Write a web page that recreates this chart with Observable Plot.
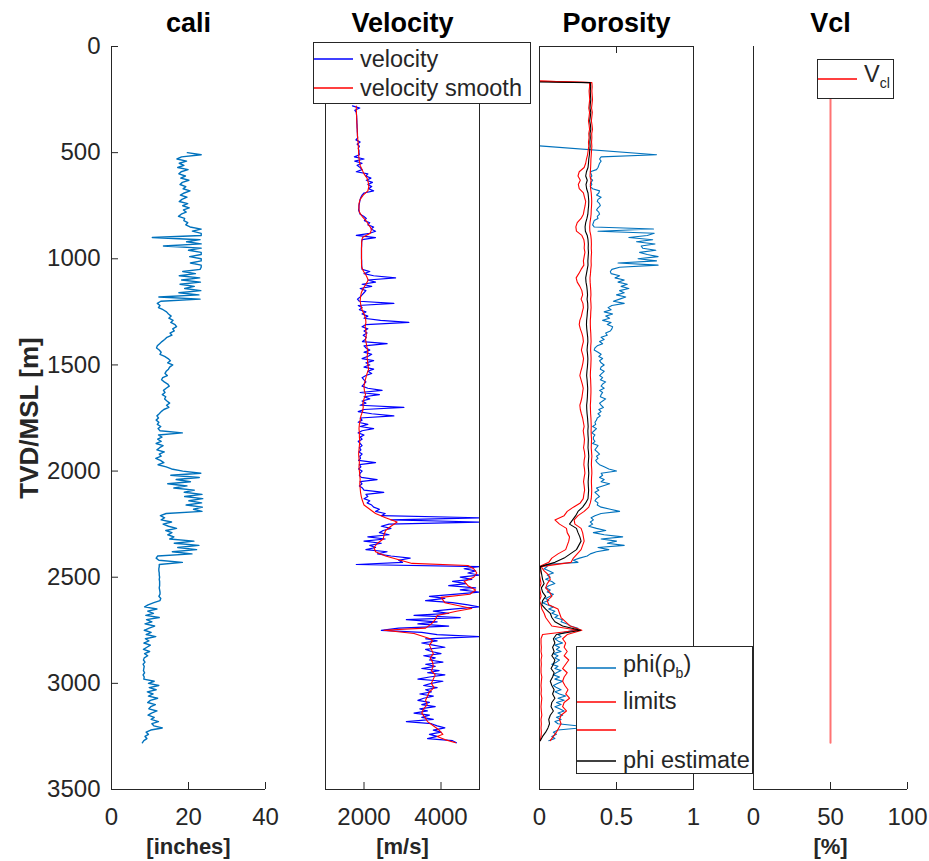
<!DOCTYPE html>
<html><head><meta charset="utf-8">
<script src="https://cdn.jsdelivr.net/npm/d3@7"></script>
<script src="https://cdn.jsdelivr.net/npm/@observablehq/plot@0.6"></script>
<style>
body{margin:0;background:#fff;}
#chart{position:relative;width:929px;height:861px;background:#fff;font-family:"Liberation Sans",Arial,Helvetica,sans-serif;overflow:hidden}
#chart svg{position:absolute;left:0;top:0}
.legend{position:absolute;background:#fff;border:1px solid #262626;box-sizing:border-box;}
.legend svg.ln{position:absolute;left:4px;width:40px;height:4px;overflow:visible}
.legend .tx{position:absolute;font-size:23.5px;line-height:1;color:#262626;white-space:nowrap;transform:translateY(-50%)}
.legend .sb{position:relative;top:0.44em;font-size:0.6em;vertical-align:baseline}
</style></head>
<body><div id="chart"></div>
<script>
// ---------------- DATA ----------------
const depthTicks = [0, 500, 1000, 1500, 2000, 2500, 3000, 3500];
const caliTicks = [0, 20, 40];
const velTicks = [2000, 4000];
const porTicks = [0, 0.5, 1];
const vclTicks = [0, 50, 100];
const panelTitles = ["cali", "Velocity", "Porosity", "Vcl"];
const panelUnits = ["[inches]", "[m/s]", "", "[%]"];
const depthLabel = "TVD/MSL [m]";

// caliper [inches], sampled every 10 m from 500 m
const caliTop = 500, caliStep = 10;
const caliValues = [
  19.7, 23.3, 18.2, 17.0, 19.5, 17.6, 18.8, 17.2, 19.9, 18.1,
  17.5, 19.2, 18.0, 20.1, 18.4, 17.8, 19.3, 18.6, 20.4, 18.9,
  17.9, 19.6, 18.3, 17.6, 19.8, 18.5, 20.2, 18.7, 19.4, 18.1,
  17.4, 19.0, 18.8, 19.8, 19.3, 20.4, 23.3, 21.0, 23.3, 23.3,
  10.6, 23.0, 19.5, 23.3, 13.5, 23.3, 20.0, 23.3, 23.3, 20.3,
  23.3, 23.3, 20.5, 23.3, 23.3, 23.0, 18.5, 21.8, 17.6, 22.9,
  18.2, 23.1, 17.8, 21.5, 19.0, 23.2, 17.5, 22.7, 12.3, 23.0,
  12.8, 11.9, 12.6, 12.2, 13.4, 14.3, 14.8, 15.5, 14.9, 16.0,
  15.4, 16.5, 16.9, 15.9, 16.3, 15.2, 15.7, 14.4, 13.8, 13.1,
  12.5, 11.9, 11.7, 12.4, 12.9, 12.6, 13.8, 14.7, 15.3, 14.6,
  15.9, 15.1, 14.8, 14.2, 13.9, 14.5, 13.3, 13.0, 13.7, 14.6,
  15.0, 14.2, 13.5, 13.9, 13.2, 14.1, 13.8, 14.4, 15.1, 14.3,
  14.9, 13.6, 12.9, 12.4, 11.8, 12.2, 11.6, 12.3, 11.9, 12.8,
  12.1, 12.6, 18.4, 12.2, 13.1, 12.0, 12.9, 11.6, 13.4, 12.5,
  11.8, 13.7, 12.4, 12.9, 11.5, 12.7, 13.6, 12.1, 14.2, 15.6,
  18.5, 23.2, 15.4, 22.8, 16.8, 20.5, 14.6, 19.6, 16.2, 21.5,
  18.9, 23.5, 19.0, 23.7, 20.1, 23.4, 19.4, 23.6, 21.3, 23.5,
  14.2, 12.7, 13.8, 12.9, 15.6, 13.4, 14.8, 16.9, 14.1, 15.7,
  14.6, 16.2, 15.1, 21.4, 16.3, 22.7, 17.2, 22.1, 15.8, 20.9,
  12.0, 11.6, 12.3, 18.4, 12.4, 12.4, 12.3, 12.3, 12.4, 12.4,
  12.5, 12.4, 12.5, 12.5, 12.5, 12.4, 12.5, 12.6, 12.6, 12.3,
  12.8, 12.6, 11.0, 9.5, 8.6, 11.8, 9.4, 10.9, 8.9, 12.4,
  9.1, 10.5, 8.7, 11.2, 9.8, 8.5, 10.3, 9.0, 11.5, 8.8,
  9.7, 8.4, 10.1, 9.2, 8.3, 9.9, 8.6, 9.4, 8.5, 8.3,
  8.7, 8.2, 8.5, 8.4, 8.3, 8.6, 8.2, 8.5, 8.4, 11.1,
  9.6, 12.3, 9.8, 11.6, 9.3, 10.8, 9.6, 12.0, 10.1, 9.4,
  11.4, 10.2, 9.7, 11.8, 10.4, 9.5, 11.1, 10.3, 12.2, 10.5,
  11.0, 13.2, 10.2, 9.0, 9.6, 8.7, 9.2, 8.4, 8.0
];

// velocity [m/s], sampled every 10 m from 280 m
const velTop = 280, velStep = 10;
const velValues = [
  1700, 1890, 1760, 1800, 1805, 1810, 1810, 1815, 1815, 1820,
  1820, 1825, 1825, 1830, 1830, 1835, 1790, 1900, 1820, 1880,
  1850, 1870, 1870, 1880, 1750, 2000, 1760, 1950, 1820, 1900,
  1950, 1800, 2100, 2050, 2180, 2060, 2220, 2100, 2200, 2120,
  2250, 2000, 1950, 1920, 1900, 1890, 1880, 1870, 1870, 1860,
  1880, 1900, 1990, 2060, 2010, 2150, 2100, 2250, 2180, 2300,
  2150, 1800, 2300, 1950, 1940, 1940, 1940, 1935, 1935, 1935,
  1935, 1935, 1935, 1940, 1940, 1940, 1945, 1950, 2150, 2000,
  2250, 2820, 2100, 2300, 1950, 2200, 1900, 2050, 2000, 1950,
  1900, 1830, 1880, 2775, 1850, 1950, 1880, 2050, 1950, 2100,
  2000, 2430, 3165, 2050, 1950, 2100, 2000, 2080, 1980, 2060,
  2030, 1960, 2600, 2000, 2050, 2150, 2000, 2200, 2100, 1950,
  2250, 2050, 2150, 2000, 2250, 2100, 2200, 2050, 1950, 2000,
  2050, 2000, 1950, 2100, 2470, 1900, 2400, 2000, 2150, 1950,
  2050, 1900, 3035, 2000, 1850, 2200, 2775, 1900, 1950, 1850,
  2100, 1900, 2250, 1950, 1850, 2000, 1900, 1950, 1850, 1900,
  1950, 1880, 1920, 1870, 1950, 1890, 1910, 1860, 2300, 1880,
  1920, 1860, 1950, 1900, 1880, 1930, 2340, 1900, 1950, 1880,
  1960, 2000, 2515, 2050, 2100, 2000, 2150, 2080, 2200, 2250,
  2400, 2300, 2550, 2450, 5000, 2700, 5000, 2650, 2450, 2700,
  2500, 2400, 2650, 2100, 2550, 2000, 2450, 2150, 2300, 2050,
  2600, 2350, 2700, 3200, 2900, 3000, 1800, 5000, 4600, 4900,
  4700, 5000, 4500, 4800, 4300, 4650, 4200, 4900, 4500, 5000,
  4400, 3700, 4100, 3600, 4300, 4700, 5000, 4300, 3800, 4200,
  3300, 4500, 3100, 3900, 3400, 4200, 2900, 2450, 3500, 3900,
  5000, 3600, 3900, 3500, 3800, 4100, 3600, 3750, 4000, 3550,
  3850, 3700, 4050, 3600, 3850, 3500, 3950, 3650, 4100, 3700,
  3400, 4050, 3750, 3550, 3900, 3600, 3750, 3450, 3800, 3550,
  3400, 3700, 3500, 3850, 3450, 3650, 3300, 3700, 3500, 3800,
  3100, 3750, 3900, 4100, 3800, 4000, 3700, 3900, 3650, 4300,
  4400
];

// smoothed velocity
const velSmoothDepth = [
  280, 300, 320, 340, 360, 380, 400, 420, 440, 460,
  480, 500, 520, 540, 560, 580, 600, 620, 640, 660,
  680, 700, 720, 740, 760, 780, 800, 820, 840, 860,
  880, 900, 920, 940, 960, 980, 1000, 1020, 1040, 1060,
  1080, 1100, 1120, 1140, 1160, 1180, 1200, 1220, 1240, 1260,
  1280, 1300, 1320, 1340, 1360, 1380, 1400, 1420, 1440, 1460,
  1480, 1500, 1520, 1540, 1560, 1580, 1600, 1620, 1640, 1660,
  1680, 1700, 1720, 1740, 1760, 1780, 1800, 1820, 1840, 1860,
  1880, 1900, 1920, 1940, 1960, 1980, 2000, 2020, 2040, 2060,
  2080, 2100, 2120, 2140, 2160, 2180, 2200, 2220, 2240, 2260,
  2280, 2300, 2320, 2340, 2360, 2380, 2400, 2420, 2435, 2445,
  2460, 2480, 2500, 2520, 2540, 2560, 2580, 2595, 2620, 2647,
  2660, 2680, 2700, 2720, 2740, 2750, 2765, 2790, 2800, 2820,
  2840, 2860, 2880, 2900, 2920, 2940, 2960, 2980, 3000, 3020,
  3040, 3060, 3080, 3100, 3120, 3140, 3160, 3180, 3200, 3220,
  3240, 3250, 3265, 3280
];
const velSmoothValue = [
  1800, 1800, 1805, 1810, 1815, 1820, 1825, 1830, 1840, 1850,
  1855, 1860, 1866, 1880, 1900, 1950, 2000, 2080, 2110, 2125,
  2100, 1980, 1900, 1870, 1866, 1880, 1950, 2050, 2120, 2200,
  2160, 1960, 1940, 1935, 1935, 1935, 1935, 1935, 1940, 1990,
  2060, 2110, 2050, 1980, 1930, 1910, 1900, 1920, 1950, 2000,
  2040, 2050, 2030, 2050, 2060, 2040, 2060, 2080, 2100, 2080,
  2090, 2100, 2120, 2080, 2050, 2020, 2000, 2010, 2040, 2000,
  1970, 1980, 1960, 1920, 1900, 1880, 1870, 1880, 1880, 1890,
  1880, 1870, 1860, 1870, 1880, 1870, 1880, 1890, 1900, 1890,
  1900, 1910, 1930, 1960, 2000, 2150, 2300, 2560, 2860, 2700,
  2560, 2520, 2500, 2350, 2260, 2300, 2560, 2950, 3250, 4700,
  4850, 4930, 4850, 4600, 4700, 4900, 4750, 4000, 4100, 4800,
  4400, 3900, 3850, 3750, 3600, 2520, 3300, 3720, 3780, 3700,
  3750, 3800, 3720, 3780, 3800, 3750, 3850, 3800, 3750, 3820,
  3700, 3650, 3600, 3640, 3550, 3500, 3580, 3650, 3800, 3950,
  4050, 3900, 4100, 4380
];

// phi(rho_b): first point, then every 10 m from 510 m
const phiLeadDepth = 468, phiLeadValue = 0;
const phiTop = 510, phiStep = 10;
const phiValues = [
  .76, .40, .39, .40, .39, .385, .38, .37, .33, .335,
  .34, .33, .345, .335, .34, .33, .345, .39, .385, .37,
  .40, .38, .375, .39, .395, .38, .37, .385, .39, .375,
  .38, .355, .35, .345, .355, .74, .38, .745, .70, .58,
  .735, .63, .75, .66, .67, .755, .65, .70, .77, .64,
  .76, .51, .77, .52, .47, .46, .465, .52, .49, .55,
  .51, .57, .53, .58, .52, .55, .50, .56, .52, .48,
  .55, .47, .445, .465, .42, .475, .43, .455, .41, .465,
  .44, .475, .47, .46, .43, .44, .40, .42, .39, .41,
  .375, .36, .355, .38, .40, .385, .41, .39, .40, .42,
  .40, .395, .42, .405, .39, .41, .395, .43, .41, .40,
  .42, .39, .41, .40, .395, .43, .41, .39, .40, .415,
  .385, .40, .38, .395, .375, .37, .36, .365, .345, .37,
  .355, .34, .36, .35, .35, .36, .345, .38, .37, .36,
  .375, .39, .37, .38, .365, .375, .39, .42, .45, .50,
  .40, .41, .39, .42, .40, .455, .41, .37, .385, .36,
  .375, .39, .37, .36, .38, .375, .40, .46, .52, .40,
  .36, .335, .35, .33, .345, .32, .37, .43, .35, .42,
  .54, .40, .50, .44, .55, .38, .45, .37, .33, .31,
  .26, .22, .25, .04, .05, .03, .06, .09, .05, .07,
  .04, .08, .10, .06, .04, .07, .05, .09, .07, .04,
  .06, .02, .05, .09, .06, .10, .08, .12, .10, .15,
  .14, .18, .20, .25, .22, .16, .12, .14, .10, .12,
  .15, .10, .13, .11, .14, .09, .12, .10, .13, .11,
  .08, .12, .10, .14, .11, .09, .13, .10, .15, .12,
  .09, .11, .14, .10, .13, .17, .12, .16, .11, .14,
  .10, .13, .16, .12, .15, .11, .14, .10, .12, .24,
  .26, .12, .09, .11, .08, .10, .06
];

// limits and phi estimate: first point, then every 20 m from 170 m
const limLeadDepth = 163, estLeadDepth = 167, leadValue = 0;
const limTop = 170, limStep = 20;
const limLow = [
  .325, .325, .322, .324, .326, .323, .320, .325, .322, .318,
  .322, .325, .320, .322, .318, .320, .316, .312, .305, .300,
  .290, .258, .250, .265, .252, .258, .285, .292, .300, .296,
  .290, .285, .270, .245, .236, .240, .275, .288, .292, .290,
  .295, .290, .285, .288, .270, .255, .238, .245, .262, .275,
  .280, .270, .282, .285, .278, .272, .262, .258, .265, .275,
  .282, .285, .278, .272, .280, .286, .282, .276, .268, .262,
  .270, .278, .284, .280, .276, .270, .262, .265, .272, .280,
  .285, .290, .284, .288, .292, .290, .286, .292, .295, .290,
  .288, .292, .295, .290, .286, .290, .293, .288, .284, .265,
  .220, .180, .160, .100, .130, .175, .180, .195, .190, .180,
  .170, .120, .080, .060, .000, .005, .000, .005, .010, .000,
  .005, .010, .000, .010, .015, .030, .040, .060, .080, .250,
  .020, .010, .010, .012, .010, .015, .010, .012, .010, .010,
  .015, .012, .010, .012, .010, .015, .012, .010, .012, .015,
  .010, .012, .010, .012, .010, .005
];
const phiEstimate = [
  .330, .332, .330, .331, .333, .330, .328, .333, .330, .326,
  .331, .333, .328, .330, .327, .329, .326, .324, .320, .318,
  .315, .305, .300, .310, .302, .306, .315, .318, .320, .319,
  .316, .314, .308, .300, .296, .298, .310, .315, .317, .316,
  .318, .316, .314, .315, .310, .305, .300, .302, .307, .310,
  .312, .309, .313, .314, .311, .309, .306, .305, .307, .310,
  .313, .314, .311, .309, .312, .314, .313, .311, .308, .306,
  .309, .311, .313, .312, .311, .309, .306, .307, .309, .312,
  .314, .316, .314, .315, .317, .316, .315, .318, .320, .318,
  .316, .318, .320, .318, .316, .317, .319, .317, .315, .300,
  .280, .250, .235, .215, .195, .240, .250, .262, .270, .255,
  .240, .200, .160, .100, .005, .010, .015, .020, .030, .012,
  .020, .040, .020, .015, .040, .070, .080, .100, .150, .265,
  .110, .090, .100, .085, .095, .080, .100, .090, .075, .095,
  .085, .070, .080, .095, .085, .100, .080, .075, .090, .070,
  .060, .065, .055, .040, .020, .005
];
const limHigh = [
  .340, .342, .340, .342, .344, .341, .338, .343, .340, .337,
  .341, .344, .339, .340, .338, .340, .338, .336, .334, .333,
  .332, .330, .328, .335, .330, .332, .336, .338, .339, .338,
  .336, .335, .332, .328, .326, .327, .333, .336, .337, .336,
  .338, .336, .335, .336, .333, .331, .328, .329, .331, .333,
  .334, .332, .334, .335, .333, .332, .330, .330, .331, .333,
  .334, .335, .333, .332, .334, .335, .334, .333, .331, .330,
  .332, .333, .334, .334, .333, .332, .330, .331, .332, .334,
  .335, .336, .335, .336, .338, .337, .336, .338, .340, .338,
  .337, .339, .340, .338, .337, .338, .339, .338, .336, .330,
  .320, .290, .250, .225, .230, .270, .280, .285, .290, .280,
  .270, .245, .220, .205, .010, .030, .060, .070, .050, .040,
  .065, .080, .050, .060, .120, .130, .140, .170, .200, .275,
  .180, .150, .170, .160, .180, .160, .190, .170, .150, .180,
  .160, .150, .165, .185, .170, .195, .160, .150, .175, .140,
  .130, .140, .125, .110, .090, .070
];

// Vcl [%]
const vclDepth = [170, 3280];
const vclValue = [50, 50];

// legend entries
const velLegend = [
  {label: "velocity", color: "#0000ff"},
  {label: "velocity smooth", color: "#ff0000"}
];
const porLegend = [
  {label: "phi(ρ<span class='sb'>b</span>)", color: "#0072BD"},
  {label: "limits", color: "#ff0000"},
  {label: "", color: "#ff0000"},
  {label: "phi estimate", color: "#000000"}
];
const vclLegend = [
  {label: "V<span class='sb'>cl</span>", color: "#ff0000"}
];

// ---------------- LAYOUT / STYLE ----------------
const W = 929, H = 861, TOP = 46, BOTTOM = 789, PW = 154, PH = BOTTOM - TOP;
const panelLefts = [111, 325, 539, 753];
const FONT = '"Liberation Sans", Arial, Helvetica, sans-serif';
const INK = "#262626";
const TICK = 7;
const C_BLUE = "#0072BD";

const grid = (top, step, values) => values.map((v, i) => ({depth: top + i * step, value: v}));
const caliRows = grid(caliTop, caliStep, caliValues);
const velRows = grid(velTop, velStep, velValues);
const velSmoothRows = velSmoothDepth.map((d, i) => ({depth: d, value: velSmoothValue[i]}));
const phiRows = [{depth: phiLeadDepth, value: phiLeadValue}, ...grid(phiTop, phiStep, phiValues)];
const lowRows = [{depth: limLeadDepth, value: leadValue}, ...grid(limTop, limStep, limLow)];
const highRows = [{depth: limLeadDepth, value: leadValue}, ...grid(limTop, limStep, limHigh)];
const estRows = [{depth: estLeadDepth, value: leadValue}, ...grid(limTop, limStep, phiEstimate)];
const vclRows = vclDepth.map((d, i) => ({depth: d, value: vclValue[i]}));

const fmt = d => String(d);

function panel(i, xDomain, xTicks, dataMarks, opts = {}) {
  const left = panelLefts[i];
  const marks = [...dataMarks];
  if (opts.box) {
    marks.push(Plot.frame({stroke: INK}));
    marks.push(Plot.tickX(xTicks, {x: d => d, stroke: INK, insetBottom: PH - TICK}));
  } else {
    marks.push(Plot.ruleX([xDomain[0]], {stroke: INK}));
    marks.push(Plot.ruleY([3500], {stroke: INK}));
  }
  marks.push(Plot.tickX(xTicks, {x: d => d, stroke: INK, insetTop: PH - TICK}));
  marks.push(Plot.axisX(xTicks, {anchor: "bottom", tickSize: 0, tickPadding: 18, fontSize: 24, color: INK, label: null, tickFormat: fmt}));
  if (opts.yAxis) {
    marks.push(Plot.tickY(depthTicks, {y: d => d, stroke: INK, insetRight: PW - TICK}));
    marks.push(Plot.axisY(depthTicks, {anchor: "left", tickSize: 0, tickPadding: 11, fontSize: 24, color: INK, label: null, tickFormat: fmt}));
    marks.push(Plot.text([depthLabel], {text: d => d, frameAnchor: "left", textAnchor: "middle", lineAnchor: "middle", rotate: -90, dx: -82, fontSize: 26, fontWeight: "bold", fill: INK}));
  }
  marks.push(Plot.text([panelTitles[i]], {text: d => d, frameAnchor: "top", lineAnchor: "middle", dy: -23.6, fontSize: 27, fontWeight: "bold", fill: "#000"}));
  if (panelUnits[i]) marks.push(Plot.text([panelUnits[i]], {text: d => d, frameAnchor: "bottom", lineAnchor: "middle", dy: 57.5, fontSize: 22, fontWeight: "bold", fill: INK}));
  return Plot.plot({
    width: W, height: H,
    marginLeft: left, marginRight: W - left - PW, marginTop: TOP, marginBottom: H - BOTTOM,
    style: {background: "transparent", fontFamily: FONT, fontSize: "24px", color: INK, overflow: "visible"},
    x: {domain: xDomain, axis: null},
    y: {domain: [0, 3500], reverse: true, axis: null},
    marks
  });
}

const chart = document.getElementById("chart");
chart.appendChild(panel(0, [0, 40], caliTicks, [
  Plot.line(caliRows, {x: "value", y: "depth", stroke: C_BLUE, strokeWidth: 1.4, clip: true})
], {yAxis: true}));
chart.appendChild(panel(1, [1000, 5000], velTicks, [
  Plot.line(velRows, {x: "value", y: "depth", stroke: "#0000ff", strokeWidth: 1.2, clip: true}),
  Plot.line(velSmoothRows, {x: "value", y: "depth", stroke: "#ff0000", strokeWidth: 1.1, clip: true})
], {box: true}));
chart.appendChild(panel(2, [0, 1], porTicks, [
  Plot.line(phiRows, {x: "value", y: "depth", stroke: C_BLUE, strokeWidth: 1.1, clip: true}),
  Plot.line(lowRows, {x: "value", y: "depth", stroke: "#ff0000", strokeWidth: 1.1, clip: true}),
  Plot.line(highRows, {x: "value", y: "depth", stroke: "#ff0000", strokeWidth: 1.1, clip: true}),
  Plot.line(estRows, {x: "value", y: "depth", stroke: "#000000", strokeWidth: 1.1, clip: true})
], {box: true}));
chart.appendChild(panel(3, [0, 100], vclTicks, [
  Plot.line(vclRows, {x: "value", y: "depth", stroke: "#ff0000", strokeOpacity: 0.55, strokeWidth: 2})
], {}));

// ---------------- LEGENDS ----------------
const SVGNS = "http://www.w3.org/2000/svg";
function legend(box, entries, lineYs, textYs) {
  const el = document.createElement("div");
  el.className = "legend";
  Object.assign(el.style, {left: box[0] + "px", top: box[1] + "px", width: box[2] + "px", height: box[3] + "px"});
  entries.forEach((e, k) => {
    const s = document.createElementNS(SVGNS, "svg");
    s.setAttribute("class", "ln");
    s.style.top = (lineYs[k] - 2) + "px";
    const l = document.createElementNS(SVGNS, "line");
    l.setAttribute("x1", 0); l.setAttribute("x2", 39);
    l.setAttribute("y1", 2); l.setAttribute("y2", 2);
    l.setAttribute("stroke", e.color); l.setAttribute("stroke-width", 1.3);
    s.appendChild(l);
    el.appendChild(s);
    if (e.label) {
      const tx = document.createElement("div");
      tx.className = "tx";
      Object.assign(tx.style, {left: "46px", top: textYs[k] + "px"});
      tx.innerHTML = e.label;
      el.appendChild(tx);
    }
  });
  chart.appendChild(el);
}
legend([313, 42, 218, 62], velLegend, [15.5, 44.5], [16.5, 45.5]);
legend([576, 646, 177, 128], porLegend, [20.5, 54.5, 82.5, 113.5], [18, 55, 83, 114]);
legend([817, 59, 77, 40], vclLegend, [18.5], [14.5]);
</script>
</body></html>
